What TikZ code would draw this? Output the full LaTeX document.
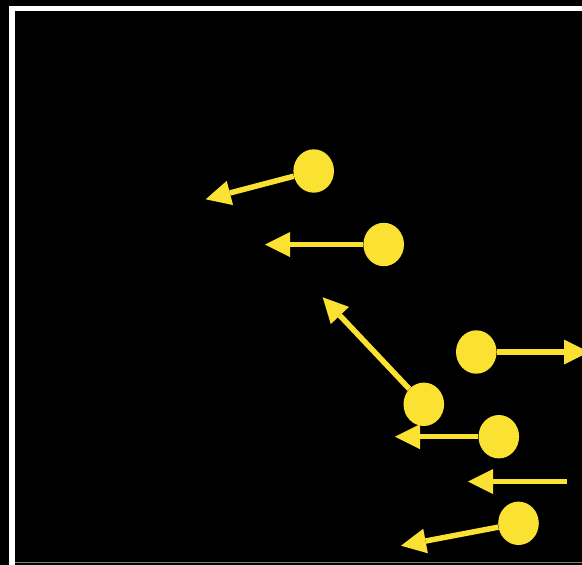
\documentclass[tikz,border=0pt]{standalone}
\usepackage{tikz}
\usetikzlibrary{arrows.meta}
\usetikzlibrary{shapes.geometric}

\definecolor{dotyellow}{RGB}{250,225,50}

\begin{document}
\begin{tikzpicture}[x=1pt,y=-1pt,
	dot/.style={ellipse, fill=dotyellow, minimum width=40.6pt, minimum height=43.4pt, inner sep=0pt},
	vel/.style={draw=dotyellow, line width=5.5pt, -{Triangle[length=25pt,width=25pt,line width=0pt]}}]
	% black backdrop and frame
	\fill[black] (0,0) rectangle (582,565);
	\useasboundingbox (0,0) rectangle (582,565);
	\draw[white, line width=5pt] (9,8.5)--(582,8.5);		%top edge
	\draw[white, line width=6pt] (12,6)--(12,565);		%left edge
	\draw[gray, line width=1pt] (15,562.7)--(582,562.7);	%bottom edge

	%dots
	\node[dot] (p1) at (313.7,171) {};
	\node[dot] (p2) at (383.7,244.5) {};
	\node[dot] (p3) at (423.8,404.3) {};
	\node[dot] (p4) at (476.3,352) {};
	\node[dot] (p5) at (498.8,436.7) {};
	\node[dot] (p7) at (518.5,523.3) {};

	%arrow ends
	\coordinate (t1) at (205.7,199.3);
	\coordinate (t2) at (265,244.5);
	\coordinate (t3) at (322.7,297.3);
	\coordinate (t4) at (589,352);
	\coordinate (t5) at (395,436.7);
	\coordinate (s6) at (566.7,481.5);
	\coordinate (t6) at (468,481.5);
	\coordinate (t7) at (401,545.7);

	%velocities
	\draw[vel] (p1)--(t1);
	\draw[vel] (p2)--(t2);
	\draw[vel] (p3)--(t3);
	\draw[vel] (p4)--(t4);
	\draw[vel] (p5)--(t5);
	\draw[vel] (s6)--(t6);		%no dot here
	\draw[vel] (p7)--(t7);
\end{tikzpicture}
\end{document}
